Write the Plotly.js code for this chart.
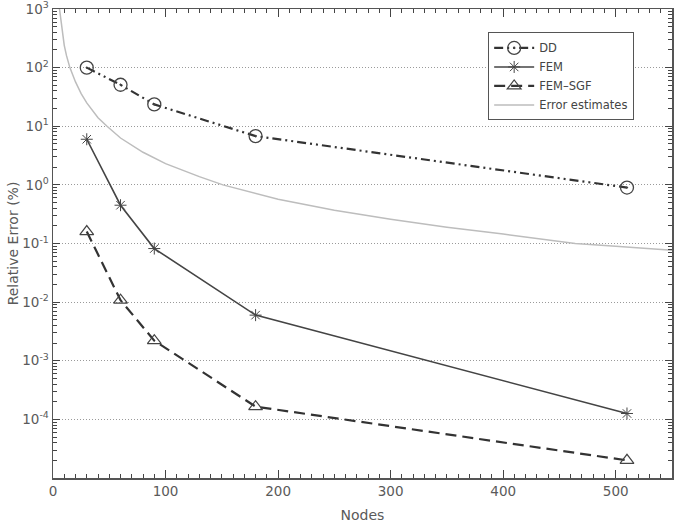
<!DOCTYPE html>
<html>
<head>
<meta charset="utf-8">
<script src="https://cdn.plot.ly/plotly-3.0.1.min.js"></script>
<style>html,body{margin:0;padding:0;background:#fff}#chart{width:685px;height:531px}</style>
</head>
<body>
<div id="chart"></div>
<script>
// Nodes for each method
const nodes = [30, 60, 90, 180, 510];
// Relative error (%) values
const ddError = [100, 51, 23.6, 6.8, 0.9];
const femError = [6.0, 0.45, 0.082, 0.006, 0.000126];
const sgfError = [0.16, 0.0108, 0.0022, 0.000165, 0.00002];
// Error estimate curve (read points)
const estNodes = [5, 6, 8, 10, 12, 15, 20, 25, 30, 40, 48, 60, 80, 100, 130, 151, 200, 250, 300, 350, 400, 464, 500, 550];
const estError = [1300, 950, 420, 240, 160, 100, 57, 36, 25, 14, 10, 6.3, 3.6, 2.3, 1.38, 1.0, 0.57, 0.37, 0.26, 0.19, 0.145, 0.10, 0.09, 0.077];
// Axis tick labels
const yTickVals = [1e-4, 1e-3, 1e-2, 1e-1, 1e0, 1e1, 1e2, 1e3];
const yTickText = ['10<sup>-4</sup>', '10<sup>-3</sup>', '10<sup>-2</sup>', '10<sup>-1</sup>', '10<sup>0</sup>', '10<sup>1</sup>', '10<sup>2</sup>', '10<sup>3</sup>'];
const xTickVals = [0, 100, 200, 300, 400, 500];

const traces = [
  {x: nodes, y: ddError, name: 'DD', mode: 'lines+markers',
   line: {color: '#333', width: 2.2, dash: '9px,4px,2px,4px,2px,4px'},
   marker: {symbol: 'circle-open-dot', size: 13, color: '#444', line: {width: 1.3}}},
  {x: nodes, y: femError, name: 'FEM', mode: 'lines+markers',
   line: {color: '#444', width: 1.6},
   marker: {symbol: 'asterisk-open', size: 10, color: '#444', line: {width: 1, color: '#444'}}},
  {x: nodes, y: sgfError, name: 'FEM\u2013SGF', mode: 'lines+markers',
   line: {color: '#333', width: 2.2, dash: '11px,6px'},
   marker: {symbol: 'triangle-up-open', size: 12, color: '#444', line: {width: 1.2}}},
  {x: estNodes, y: estError, name: 'Error estimates', mode: 'lines',
   line: {color: '#bdbdbd', width: 1.5}}
];

const tickFont = {family: 'DejaVu Sans, sans-serif', size: 13.5, color: '#5a5a5a'};
const titleFont = {family: 'DejaVu Sans, sans-serif', size: 14, color: '#5a5a5a'};
const layout = {
  width: 685, height: 531,
  margin: {l: 53, r: 13, t: 9, b: 53},
  paper_bgcolor: '#fff', plot_bgcolor: '#fff',
  showlegend: true,
  legend: {x: 0.703, y: 0.95, xanchor: 'left', yanchor: 'top',
           bgcolor: '#fff', bordercolor: '#555', borderwidth: 1,
           font: {family: 'DejaVu Sans, sans-serif', size: 11.5, color: '#444'},
           tracegroupgap: 0, itemwidth: 40},
  xaxis: {range: [0, 550], tickmode: 'array', tickvals: xTickVals,
          ticks: 'inside', ticklen: 8, tickcolor: '#444', tickwidth: 1, mirror: 'allticks',
          showline: true, linecolor: '#555', linewidth: 1.5, showgrid: false, zeroline: false,
          minor: {dtick: 10, tick0: 0, ticks: 'inside', ticklen: 4, tickcolor: '#444', tickwidth: 1, showgrid: false},
          tickfont: tickFont, ticklabeloverflow: 'allow',
          title: {text: 'Nodes', font: titleFont, standoff: 12}},
  yaxis: {type: 'log', range: [-5, 3], tickmode: 'array', tickvals: yTickVals, ticktext: yTickText,
          ticks: 'inside', ticklen: 7, tickcolor: '#444', tickwidth: 1, mirror: 'allticks',
          showline: true, linecolor: '#555', linewidth: 1.5, zeroline: false,
          showgrid: true, gridcolor: '#9a9a9a', griddash: '1px,2px', gridwidth: 1,
          minor: {dtick: 'D1', ticks: 'inside', ticklen: 4, tickcolor: '#444', tickwidth: 1, showgrid: false},
          tickfont: tickFont, ticklabeloverflow: 'allow',
          title: {text: 'Relative Error (%)', font: titleFont, standoff: 0}}
};

Plotly.newPlot('chart', traces, layout, {displayModeBar: false, staticPlot: true});
</script>
</body>
</html>
